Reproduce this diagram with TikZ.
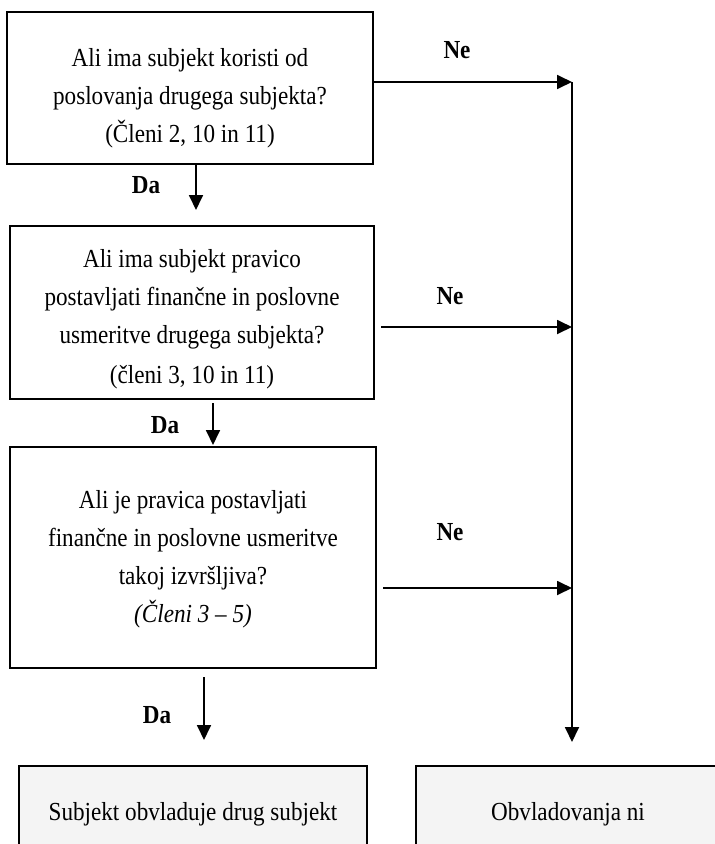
\documentclass[tikz,border=0pt]{standalone}
\usepackage{fontspec}
\setmainfont{Liberation Serif}[FakeStretch=0.89]
\usetikzlibrary{arrows.meta,positioning,calc}
\tikzset{
    vprasanje/.style={
        rectangle,
        draw,
        line width=2.2pt,
        inner sep=0pt
    },
    besedilo/.style={align=center, inner sep=0pt},
    rezultat/.style={vprasanje, fill=gray!9, line width=1.8pt, align=center},
    tok/.style={-{Triangle[length=15pt,width=14pt]}, line width=1.8pt},
    oznaka/.style={font=\fontsize{26}{30}\selectfont\bfseries}
}

\begin{document}
\begin{tikzpicture}[x=1pt, y=-1pt, font=\fontsize{26}{38}\selectfont]
        \useasboundingbox (0,0) rectangle (715,844);
        \node[vprasanje, minimum width=366pt, minimum height=152pt] (korist) at (190,88) {};
        \node[besedilo] (korist-t) at (190,98)
            {Ali ima subjekt koristi od\\poslovanja drugega subjekta?\\(Členi 2, 10 in 11)};
        \node[vprasanje, minimum width=364pt, minimum height=173pt] (pravica) at (192,312.5) {};
        \node[besedilo] (pravica-t) at (192,319)
            {Ali ima subjekt pravico\\postavljati finančne in poslovne\\usmeritve drugega subjekta?\\[2pt](členi 3, 10 in 11)};
        \node[vprasanje, minimum width=366pt, minimum height=221pt] (izvrsljiva) at (193,557.5) {};
        \node[besedilo] (izvrsljiva-t) at (193,559)
            {Ali je pravica postavljati\\finančne in poslovne usmeritve\\takoj izvršljiva?\\\textit{(Členi 3 – 5)}};
        \node[rezultat, minimum width=348pt, minimum height=96pt] (obvladuje) at (193,814)
            {Subjekt obvladuje drug subjekt};
        \node[rezultat, minimum width=304pt, minimum height=96pt] (ni) at (568,814)
            {Obvladovanja ni};

        % zbirna navpicnica na desni
        \coordinate (v1) at (572,82);
        \coordinate (v2) at (572,327);
        \coordinate (v3) at (572,588);
        \coordinate (vkonec) at (572,742);
        \coordinate (da1) at (196,210);
        \coordinate (da2) at (213,445);
        \coordinate (da3) at (204,740);

        \draw[tok] (korist.east |- v1) -- (v1);
        \draw[tok, shorten <=6pt] (pravica.east |- v2) -- (v2);
        \draw[tok, shorten <=6pt] (izvrsljiva.east |- v3) -- (v3);
        \draw[tok] (v1) -- (vkonec);
        \draw[tok] (korist.south -| da1) -- (da1);
        \draw[tok, shorten <=3pt] (pravica.south -| da2) -- (da2);
        \draw[tok, shorten <=8pt] (izvrsljiva.south -| da3) -- (da3);

        \node[oznaka] (ne1) at (457,50) {Ne};
        \node[oznaka] (ne2) at (450,296) {Ne};
        \node[oznaka] (ne3) at (450,532) {Ne};
        \node[oznaka] (dab1) at (146,185) {Da};
        \node[oznaka] (dab2) at (165,425) {Da};
        \node[oznaka] (dab3) at (157,715) {Da};
    \end{tikzpicture}
\end{document}
